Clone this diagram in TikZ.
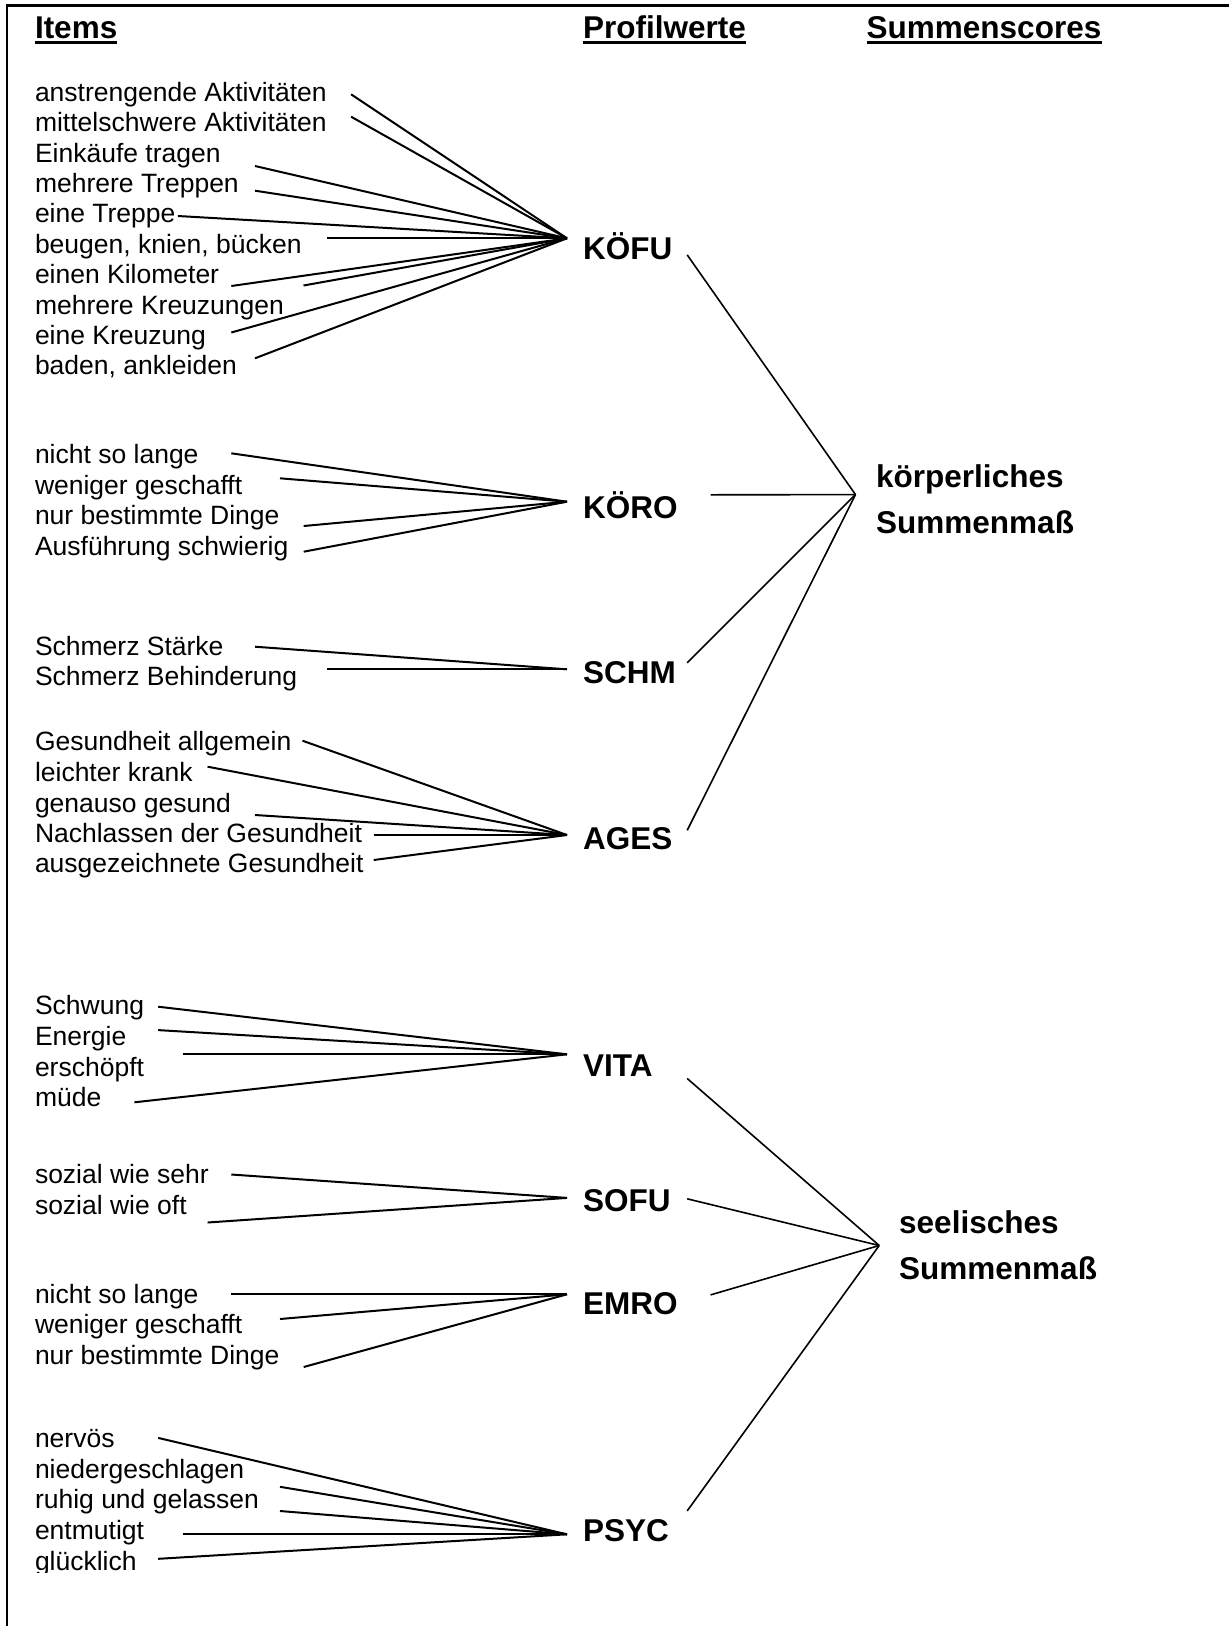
\documentclass[tikz,border=0pt]{standalone}
\usepackage{fontspec}
\setmainfont{Liberation Sans}
\begin{document}
\begin{tikzpicture}[x=1pt,y=-1pt,
  item/.style={anchor=base west, inner sep=0pt, font=\fontsize{26.5}{30}\selectfont},
  prof/.style={anchor=base west, inner sep=0pt, font=\fontsize{31.5}{36}\selectfont\bfseries},
  feed/.style={line width=2pt},
  agg/.style={line width=1.6pt},
  uline/.style={line width=3pt}]
\useasboundingbox (0,0) rectangle (1229,1626);
\draw[line width=2.6pt] (7,1626) -- (7,5.3) -- (1229,5.3);

% headers
\node[prof] (hI) at (34.8,38) {Items};
\node[prof] (hP) at (583,38) {Profilwerte};
\node[prof] (hS) at (866.5,38) {Summenscores};
\foreach \h in {hI,hP,hS}
  \draw[uline] ([yshift=-4pt]\h.base west) -- ([yshift=-4pt]\h.base east);

% profile labels
\node[prof] (koefu) at (583,259) {KÖFU};
\node[prof] (koero) at (583,518) {KÖRO};
\node[prof] (schm)  at (583,683) {SCHM};
\node[prof] (ages)  at (583,849) {AGES};
\node[prof] (vita)  at (583,1076) {VITA};
\node[prof] (sofu)  at (583,1211) {SOFU};
\node[prof] (emro)  at (583,1314.5) {EMRO};
\node[prof] (psyc)  at (583,1541) {PSYC};

% sum labels
\node[prof] (kS1) at (876,487) {körperliches};
\node[prof] (kS2) at (876,533) {Summenmaß};
\node[prof] (sS1) at (899,1233) {seelisches};
\node[prof] (sS2) at (899,1279) {Summenmaß};

% items KÖFU
\node[item] (i1)  at (34.8,101.3) {anstrengende Aktivitäten};
\node[item] (i2)  at (34.8,131.7) {mittelschwere Aktivitäten};
\node[item] (i3)  at (34.8,162.1) {Einkäufe tragen};
\node[item] (i4)  at (34.8,192.5) {mehrere Treppen};
\node[item] (i5)  at (34.8,222.9) {eine Treppe};
\node[item] (i6)  at (34.8,253.3) {beugen, knien, bücken};
\node[item] (i7)  at (34.8,283.7) {einen Kilometer};
\node[item] (i8)  at (34.8,314.1) {mehrere Kreuzungen};
\node[item] (i9)  at (34.8,344.5) {eine Kreuzung};
\node[item] (i10) at (34.8,374.9) {baden, ankleiden};
% items KÖRO
\node[item] (r1) at (34.8,463.7) {nicht so lange};
\node[item] (r2) at (34.8,494.3) {weniger geschafft};
\node[item] (r3) at (34.8,524.5) {nur bestimmte Dinge};
\node[item] (r4) at (34.8,555.3) {Ausführung schwierig};
% items SCHM
\node[item] (s1) at (34.8,655.3) {Schmerz Stärke};
\node[item] (s2) at (34.8,685.5) {Schmerz Behinderung};
% items AGES
\node[item] (g1) at (34.8,750.5) {Gesundheit allgemein};
\node[item] (g2) at (34.8,781.5) {leichter krank};
\node[item] (g3) at (34.8,812) {genauso gesund};
\node[item] (g4) at (34.8,842) {Nachlassen der Gesundheit};
\node[item] (g5) at (34.8,872) {ausgezeichnete Gesundheit};
% items VITA
\node[item] (v1) at (34.8,1014.6) {Schwung};
\node[item] (v2) at (34.8,1045.4) {Energie};
\node[item] (v3) at (34.8,1076.2) {erschöpft};
\node[item] (v4) at (34.8,1106.6) {müde};
% items SOFU
\node[item] (o1) at (34.8,1183.7) {sozial wie sehr};
\node[item] (o2) at (34.8,1214.2) {sozial wie oft};
% items EMRO
\node[item] (e1) at (34.8,1303.4) {nicht so lange};
\node[item] (e2) at (34.8,1333.5) {weniger geschafft};
\node[item] (e3) at (34.8,1364) {nur bestimmte Dinge};
% items PSYC
\node[item] (p1) at (34.8,1447) {nervös};
\node[item] (p2) at (34.8,1478.5) {niedergeschlagen};
\node[item] (p3) at (34.8,1508.8) {ruhig und gelassen};
\node[item] (p4) at (34.8,1539.6) {entmutigt};
\begin{scope}
  \clip (0,0) rectangle (1229,1572.5);
  \node[item] (p5) at (34.8,1570) {glücklich};
\end{scope}

% convergence points
\coordinate (cKOEFU) at (567,238.3);
\coordinate (cKOERO) at (567,501.7);
\coordinate (cSCHM)  at (567,669.3);
\coordinate (cAGES)  at (567,835);
\coordinate (cVITA)  at (567,1054.3);
\coordinate (cSOFU)  at (567,1197.9);
\coordinate (cEMRO)  at (567,1294.3);
\coordinate (cPSYC)  at (567,1534.3);
\coordinate (cK) at (855.5,494.6);
\coordinate (cS) at (879.2,1245.5);

% free ends of item lines
\foreach \n/\x/\y in {
  ei1/351.1/94.3, ei2/351.1/116.7, ei3/255/166, ei4/255/190.7, ei5/177.9/216,
  ei6/327.4/238.3, ei7/231.3/286, ei8/303.5/285.5, ei9/231.3/332.5, ei10/255/358.3,
  er1/231.3/453.3, er2/280/478.3, er3/303.7/526, er4/303.7/551.7,
  es1/255/646.7, es2/327.4/669.3,
  eg1/302.5/740.7, eg2/207.6/766.7, eg3/255/815, eg4/373.7/835, eg5/373.7/860,
  ev1/158.2/1006.7, ev2/158.2/1030.1, ev3/182.7/1054.3, ev4/134.4/1102.3,
  eo1/231.3/1174.5, eo2/207.6/1222.5,
  ee1/231.3/1294.3, ee2/280/1319, ee3/303.7/1367,
  ep1/158.2/1437.9, ep2/280/1486.8, ep3/280/1511, ep4/182.7/1534.3, ep5/158.2/1558.8}
  \coordinate (\n) at (\x,\y);

\foreach \n in {ei1,ei2,ei3,ei4,ei5,ei6,ei7,ei8,ei9,ei10} \draw[feed] (\n) -- (cKOEFU);
\foreach \n in {er1,er2,er3,er4} \draw[feed] (\n) -- (cKOERO);
\foreach \n in {es1,es2} \draw[feed] (\n) -- (cSCHM);
\foreach \n in {eg1,eg2,eg3,eg4,eg5} \draw[feed] (\n) -- (cAGES);
\foreach \n in {ev1,ev2,ev3,ev4} \draw[feed] (\n) -- (cVITA);
\foreach \n in {eo1,eo2} \draw[feed] (\n) -- (cSOFU);
\foreach \n in {ee1,ee2,ee3} \draw[feed] (\n) -- (cEMRO);
\foreach \n in {ep1,ep2,ep3,ep4,ep5} \draw[feed] (\n) -- (cPSYC);

% aggregate lines
\coordinate (oKOEFU) at (687.2,254.9);
\coordinate (oKOERO) at (710.5,494.8);
\coordinate (oSCHM)  at (687.2,662.8);
\coordinate (oAGES)  at (687.2,830.3);
\coordinate (oVITA)  at (687.2,1078.5);
\coordinate (oSOFU)  at (687.2,1198.8);
\coordinate (oEMRO)  at (710.5,1294.9);
\coordinate (oPSYC)  at (687.2,1510.9);
\foreach \n in {oKOEFU,oKOERO,oSCHM,oAGES} \draw[agg] (\n) -- (cK);
\foreach \n in {oVITA,oSOFU,oEMRO,oPSYC} \draw[agg] (\n) -- (cS);
\end{tikzpicture}
\end{document}
